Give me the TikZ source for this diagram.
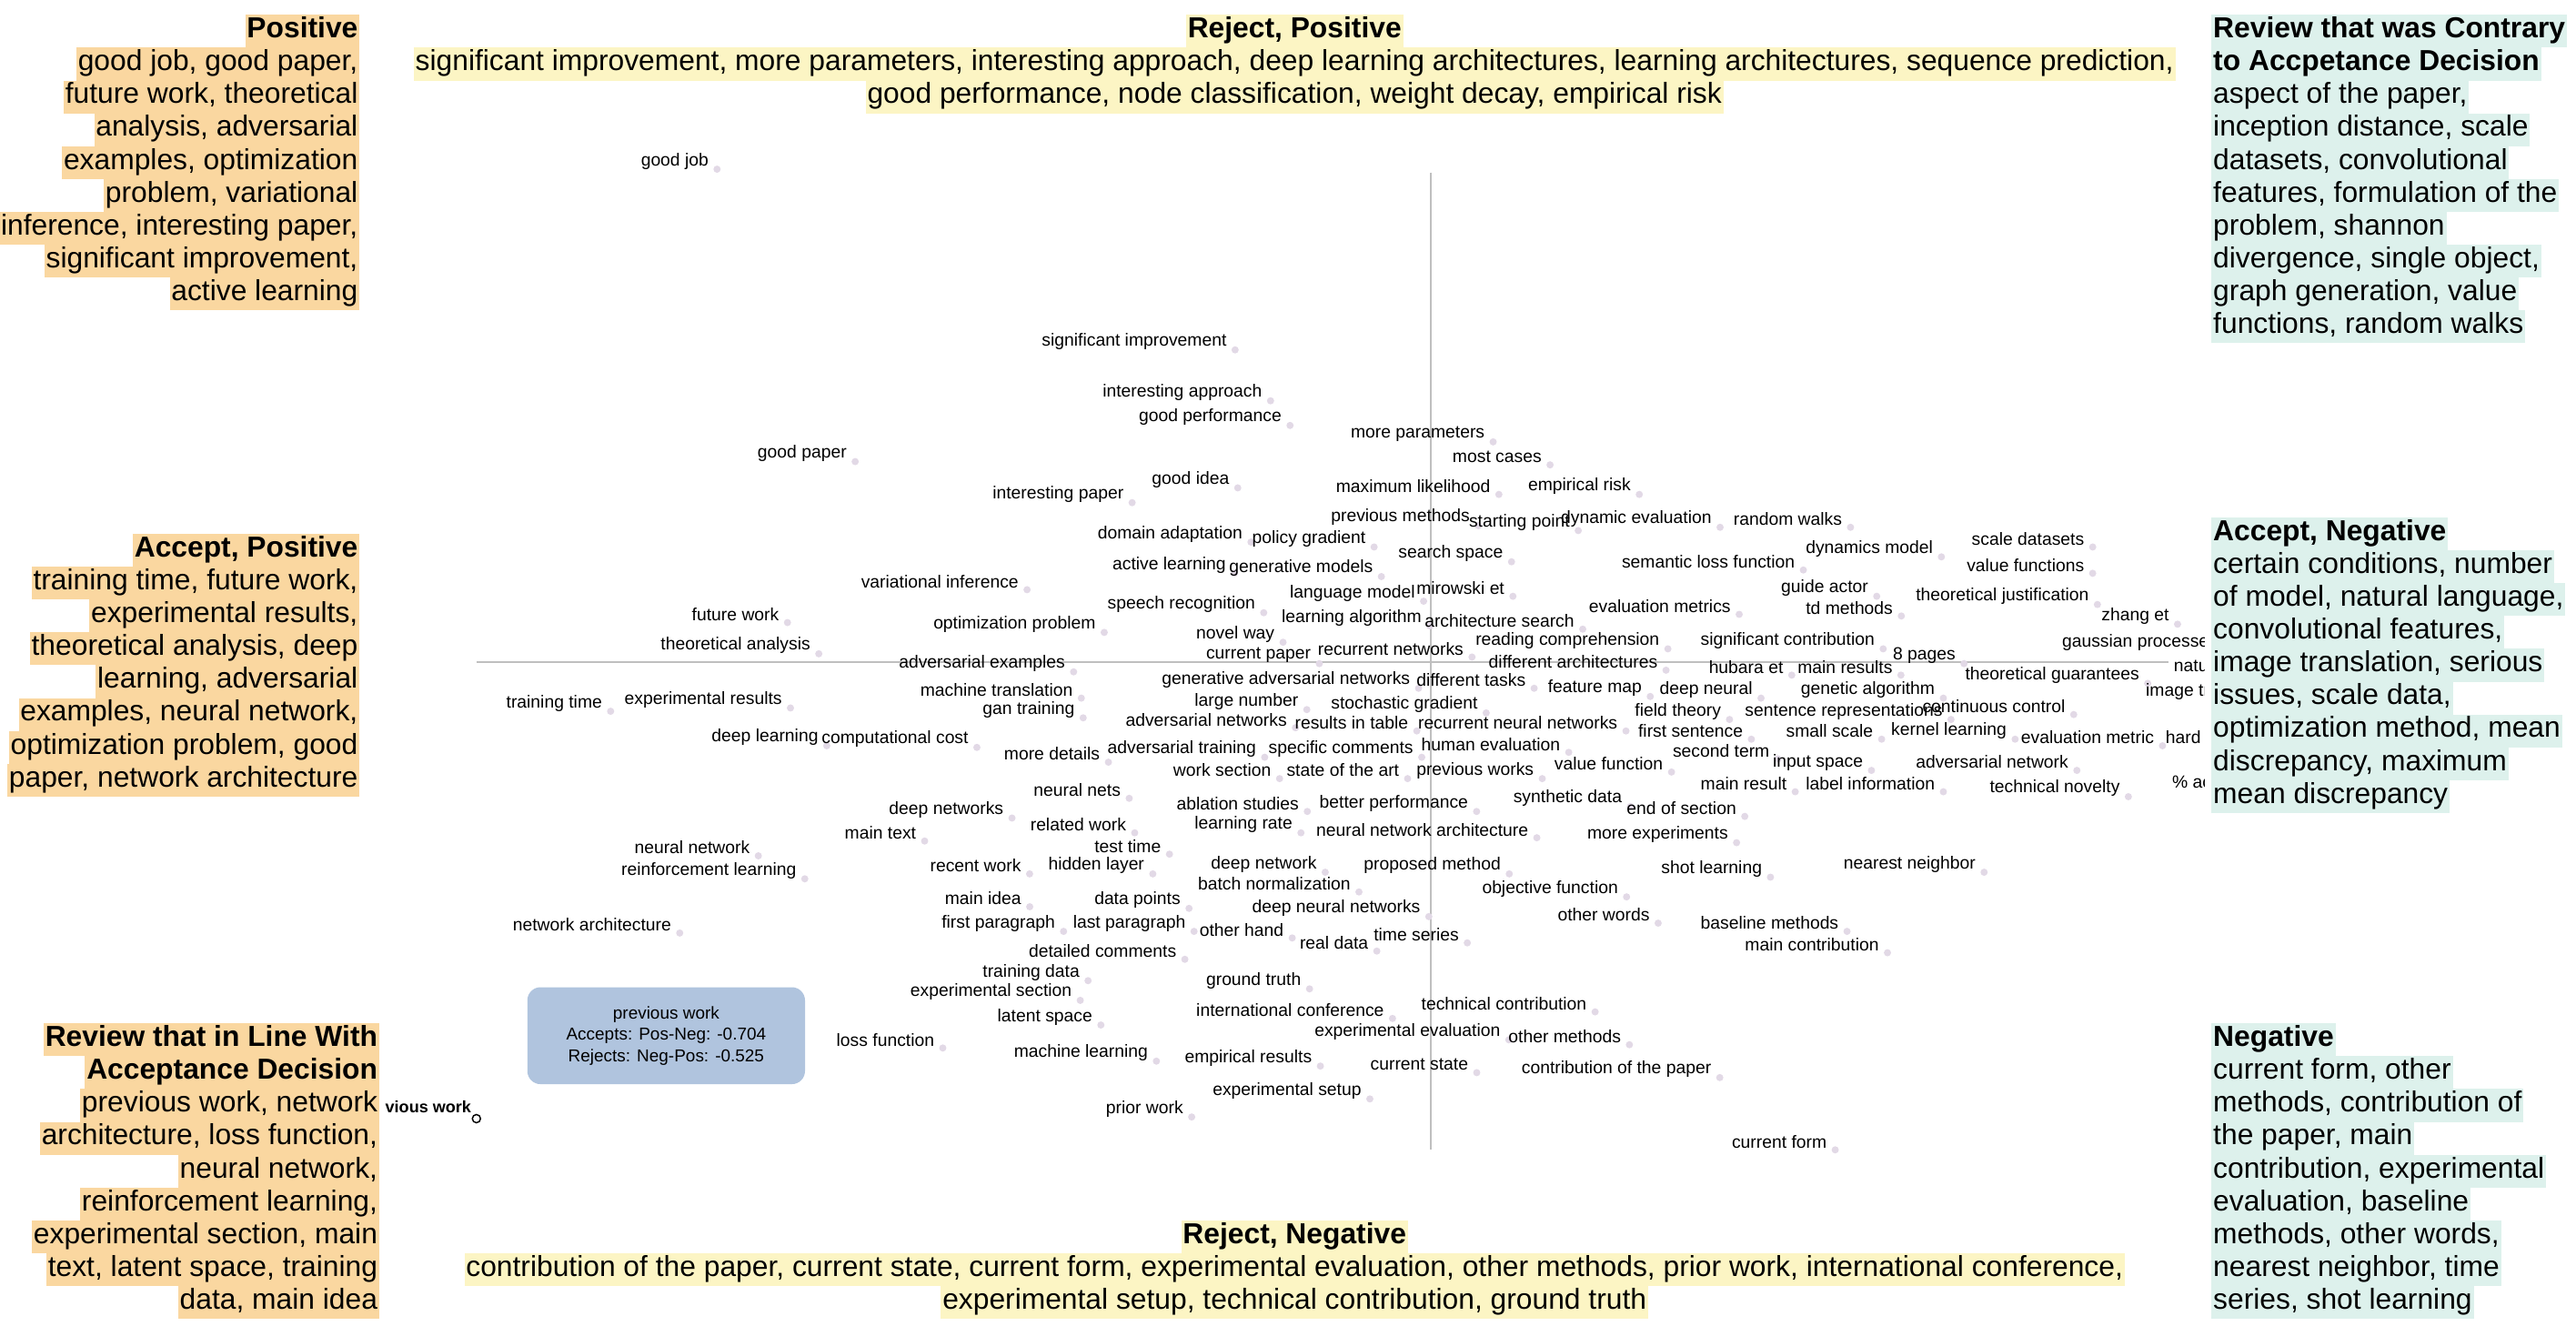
\documentclass[tikz,border=0pt]{standalone}
\usepackage{fontspec}
\setmainfont{Liberation Sans}
\usetikzlibrary{calc}
\definecolor{org}{HTML}{FAD7A0}
\definecolor{grn}{HTML}{DDF1EC}
\definecolor{yel}{HTML}{FCF5C4}
\definecolor{dotc}{HTML}{E2D9E6}
\definecolor{tip}{HTML}{B0C4DE}
\begin{document}
\begin{tikzpicture}[x=1pt,y=-1pt,
  lbl/.style={anchor=west,inner sep=0pt,font=\fontsize{10.7}{13}\selectfont},
  dotst/.style={fill=dotc},
  hl/.style={inner xsep=1pt,inner ysep=0pt,minimum height=20pt,text height=14pt,text depth=6pt,font=\fontsize{17.6}{20}\selectfont},
  axis/.style={draw=black!25,line width=0.8pt}]
\useasboundingbox (0,0) rectangle (1568,807);
\draw[axis] (871,105) coordinate (vt) -- (871,700) coordinate (vb);
\draw[axis] (290,403) coordinate (hl0) -- (1320,403) coordinate (hr0);
\begin{scope}
\clip (0,0) rectangle (1342,807);
\foreach \x/\y/\t [count=\i] in {
390/98/good job, 634/208/significant improvement, 671/239/interesting approach,
693/254/good performance, 822/264/more parameters, 884/278/most cases, 461/276/good paper,
930/296/empirical risk, 813/296/maximum likelihood, 701/292/good idea, 604/301/interesting paper,
1055/316/random walks, 810/315/previous methods, 894/318/starting point, 950/316/dynamic evaluation,
668/325/domain adaptation, 762/328/policy gradient, 851/337/search space, 1200/328/scale datasets,
1099/334/dynamics model, 987/342/semantic loss function, 1197/344/value functions, 677/344/active learning,
748/346/generative models, 524/354/variational inference, 862/358/mirowski et, 785/361/language model,
1084/358/guide actor, 1166/363/theoretical justification, 674/368/speech recognition, 967/369/evaluation metrics,
1099/370/td methods, 421/374/future work, 780/376/learning algorithm, 867/378/architecture search,
1279/375/zhang et, 568/380/optimization problem, 728/386/novel way, 402/393/theoretical analysis,
898/390/reading comprehension, 1035/390/significant contribution, 1152/399/8 pages, 1255/391/gaussian processes,
1323/405/natural, 734/399/current paper, 802/395/recurrent networks, 547/404/adversarial examples,
1040/406/hubara et, 1094/406/main results, 1196/411/theoretical guarantees, 707/414/generative adversarial networks,
862/414/different tasks, 906/403/different architectures, 560/420/machine translation, 942/419/feature map,
1010/420/deep neural, 1096/420/genetic algorithm, 1306/421/image translation, 727/427/large number,
810/429/stochastic gradient, 1170/430/continuous control, 308/428/training time, 380/426/experimental results,
598/432/gan training, 995/433/field theory, 1062/433/sentence representations, 685/438/adversarial networks,
788/440/results in table, 863/440/recurrent neural networks, 997/445/first sentence, 1087/445/small scale,
1151/445/kernel learning, 1230/449/evaluation metric, 1318/449/hard, 433/449/deep learning,
500/450/computational cost, 865/453/human evaluation, 674/456/adversarial training, 772/456/specific comments,
611/459/more details, 1018/457/second term, 1079/464/input space, 1166/464/adversarial network,
946/465/value function, 714/469/work section, 783/469/state of the art, 862/469/previous works,
1035/477/main result, 1099/477/label information, 1211/480/technical novelty, 1322/477/\% accuracy,
629/481/neural nets, 716/489/ablation studies, 803/489/better performance, 921/486/synthetic data,
990/492/end of section, 541/493/deep networks, 727/502/learning rate, 627/502/related work,
801/505/neural network architecture, 514/507/main text, 966/508/more experiments, 666/515/test time,
386/516/neural network, 1122/526/nearest neighbor, 737/526/deep network, 566/527/recent work,
638/527/hidden layer, 830/527/proposed method, 1011/529/shot learning, 378/530/reinforcement learning,
729/538/batch normalization, 902/541/objective function, 575/547/main idea, 666/548/data points,
762/553/deep neural networks, 948/557/other words, 312/563/network architecture, 573/562/first paragraph,
653/562/last paragraph, 730/566/other hand, 1035/562/baseline methods, 836/569/time series,
791/574/real data, 1062/575/main contribution, 626/579/detailed comments, 598/592/training data,
734/597/ground truth, 554/604/experimental section, 865/611/technical contribution, 728/615/international conference,
607/619/latent space, 800/628/experimental evaluation, 918/631/other methods, 509/633/loss function,
617/641/machine learning, 721/644/empirical results, 834/648/current state, 926/651/contribution of the paper,
738/664/experimental setup, 673/675/prior work, 1054/695/current form}
{
  \node[lbl] (p\i) at (\x,\y) {\t};
  \fill[dotst] ($(p\i.east)+(5,5)$) circle (2.2);
}
\end{scope}
% hovered point
\node[anchor=east,inner sep=0pt,font=\fontsize{10}{12}\selectfont\bfseries] (hov) at (287,674) {vious work};
\draw[line width=0.8pt] (290,681) coordinate (hovc) circle (2.5);
\node[fill=tip,rounded corners=8pt,minimum width=169pt,minimum height=59pt,align=center,
  font=\fontsize{10.5}{13}\selectfont] (tipbox) at (405.5,630.5)
  {previous work\\Accepts: Pos-Neg: -0.704\\Rejects: Neg-Pos: -0.525};
% left blocks
\foreach \t [count=\i from 0] in {\textbf{Positive},good job{,} good paper{,},future work{,} theoretical,analysis{,} adversarial,examples{,} optimization,problem{,} variational,inference{,} interesting paper{,},significant improvement{,},active learning}
  \node[hl,fill=org,anchor=east] (lt\i) at (219,19+20*\i) {\t};
\foreach \t [count=\i from 0] in {\textbf{Accept, Positive},training time{,} future work{,},experimental results{,},theoretical analysis{,} deep,learning{,} adversarial,examples{,} neural network{,},optimization problem{,} good,paper{,} network architecture}
  \node[hl,fill=org,anchor=east] (lm\i) at (219,335+20*\i) {\t};
\foreach \t [count=\i from 0] in {\textbf{Review that in Line With},\textbf{Acceptance Decision},previous work{,} network,architecture{,} loss function{,},neural network{,},reinforcement learning{,},experimental section{,} main,text{,} latent space{,} training,data{,} main idea}
  \node[hl,fill=org,anchor=east] (lb\i) at (231,633+20*\i) {\t};
% right blocks
\foreach \t [count=\i from 0] in {\textbf{Review that was Contrary},\textbf{to Accpetance Decision},aspect of the paper{,},inception distance{,} scale,datasets{,} convolutional,features{,} formulation of the,problem{,} shannon,divergence{,} single object{,},graph generation{,} value,functions{,} random walks}
  \node[hl,fill=grn,anchor=west] (rt\i) at (1346,19+20*\i) {\t};
\foreach \t [count=\i from 0] in {\textbf{Accept, Negative},certain conditions{,} number,of model{,} natural language{,},convolutional features{,},image translation{,} serious,issues{,} scale data{,},optimization method{,} mean,discrepancy{,} maximum,mean discrepancy}
  \node[hl,fill=grn,anchor=west] (rm\i) at (1346,325+20*\i) {\t};
\foreach \t [count=\i from 0] in {\textbf{Negative},current form{,} other,methods{,} contribution of,the paper{,} main,contribution{,} experimental,evaluation{,} baseline,methods{,} other words{,},nearest neighbor{,} time,series{,} shot learning}
  \node[hl,fill=grn,anchor=west] (rb\i) at (1346,633+20*\i) {\t};
% top and bottom centre
\node[hl,fill=yel] (tc0) at (788,19) {\textbf{Reject, Positive}};
\node[hl,fill=yel] (tc1) at (788,39) {significant improvement, more parameters, interesting approach, deep learning architectures, learning architectures, sequence prediction,};
\node[hl,fill=yel] (tc2) at (788,59) {good performance, node classification, weight decay, empirical risk};
\node[hl,fill=yel] (bc0) at (788,753) {\textbf{Reject, Negative}};
\node[hl,fill=yel] (bc1) at (788,773) {contribution of the paper, current state, current form, experimental evaluation, other methods, prior work, international conference,};
\node[hl,fill=yel] (bc2) at (788,793) {experimental setup, technical contribution, ground truth};
\end{tikzpicture}
\end{document}
